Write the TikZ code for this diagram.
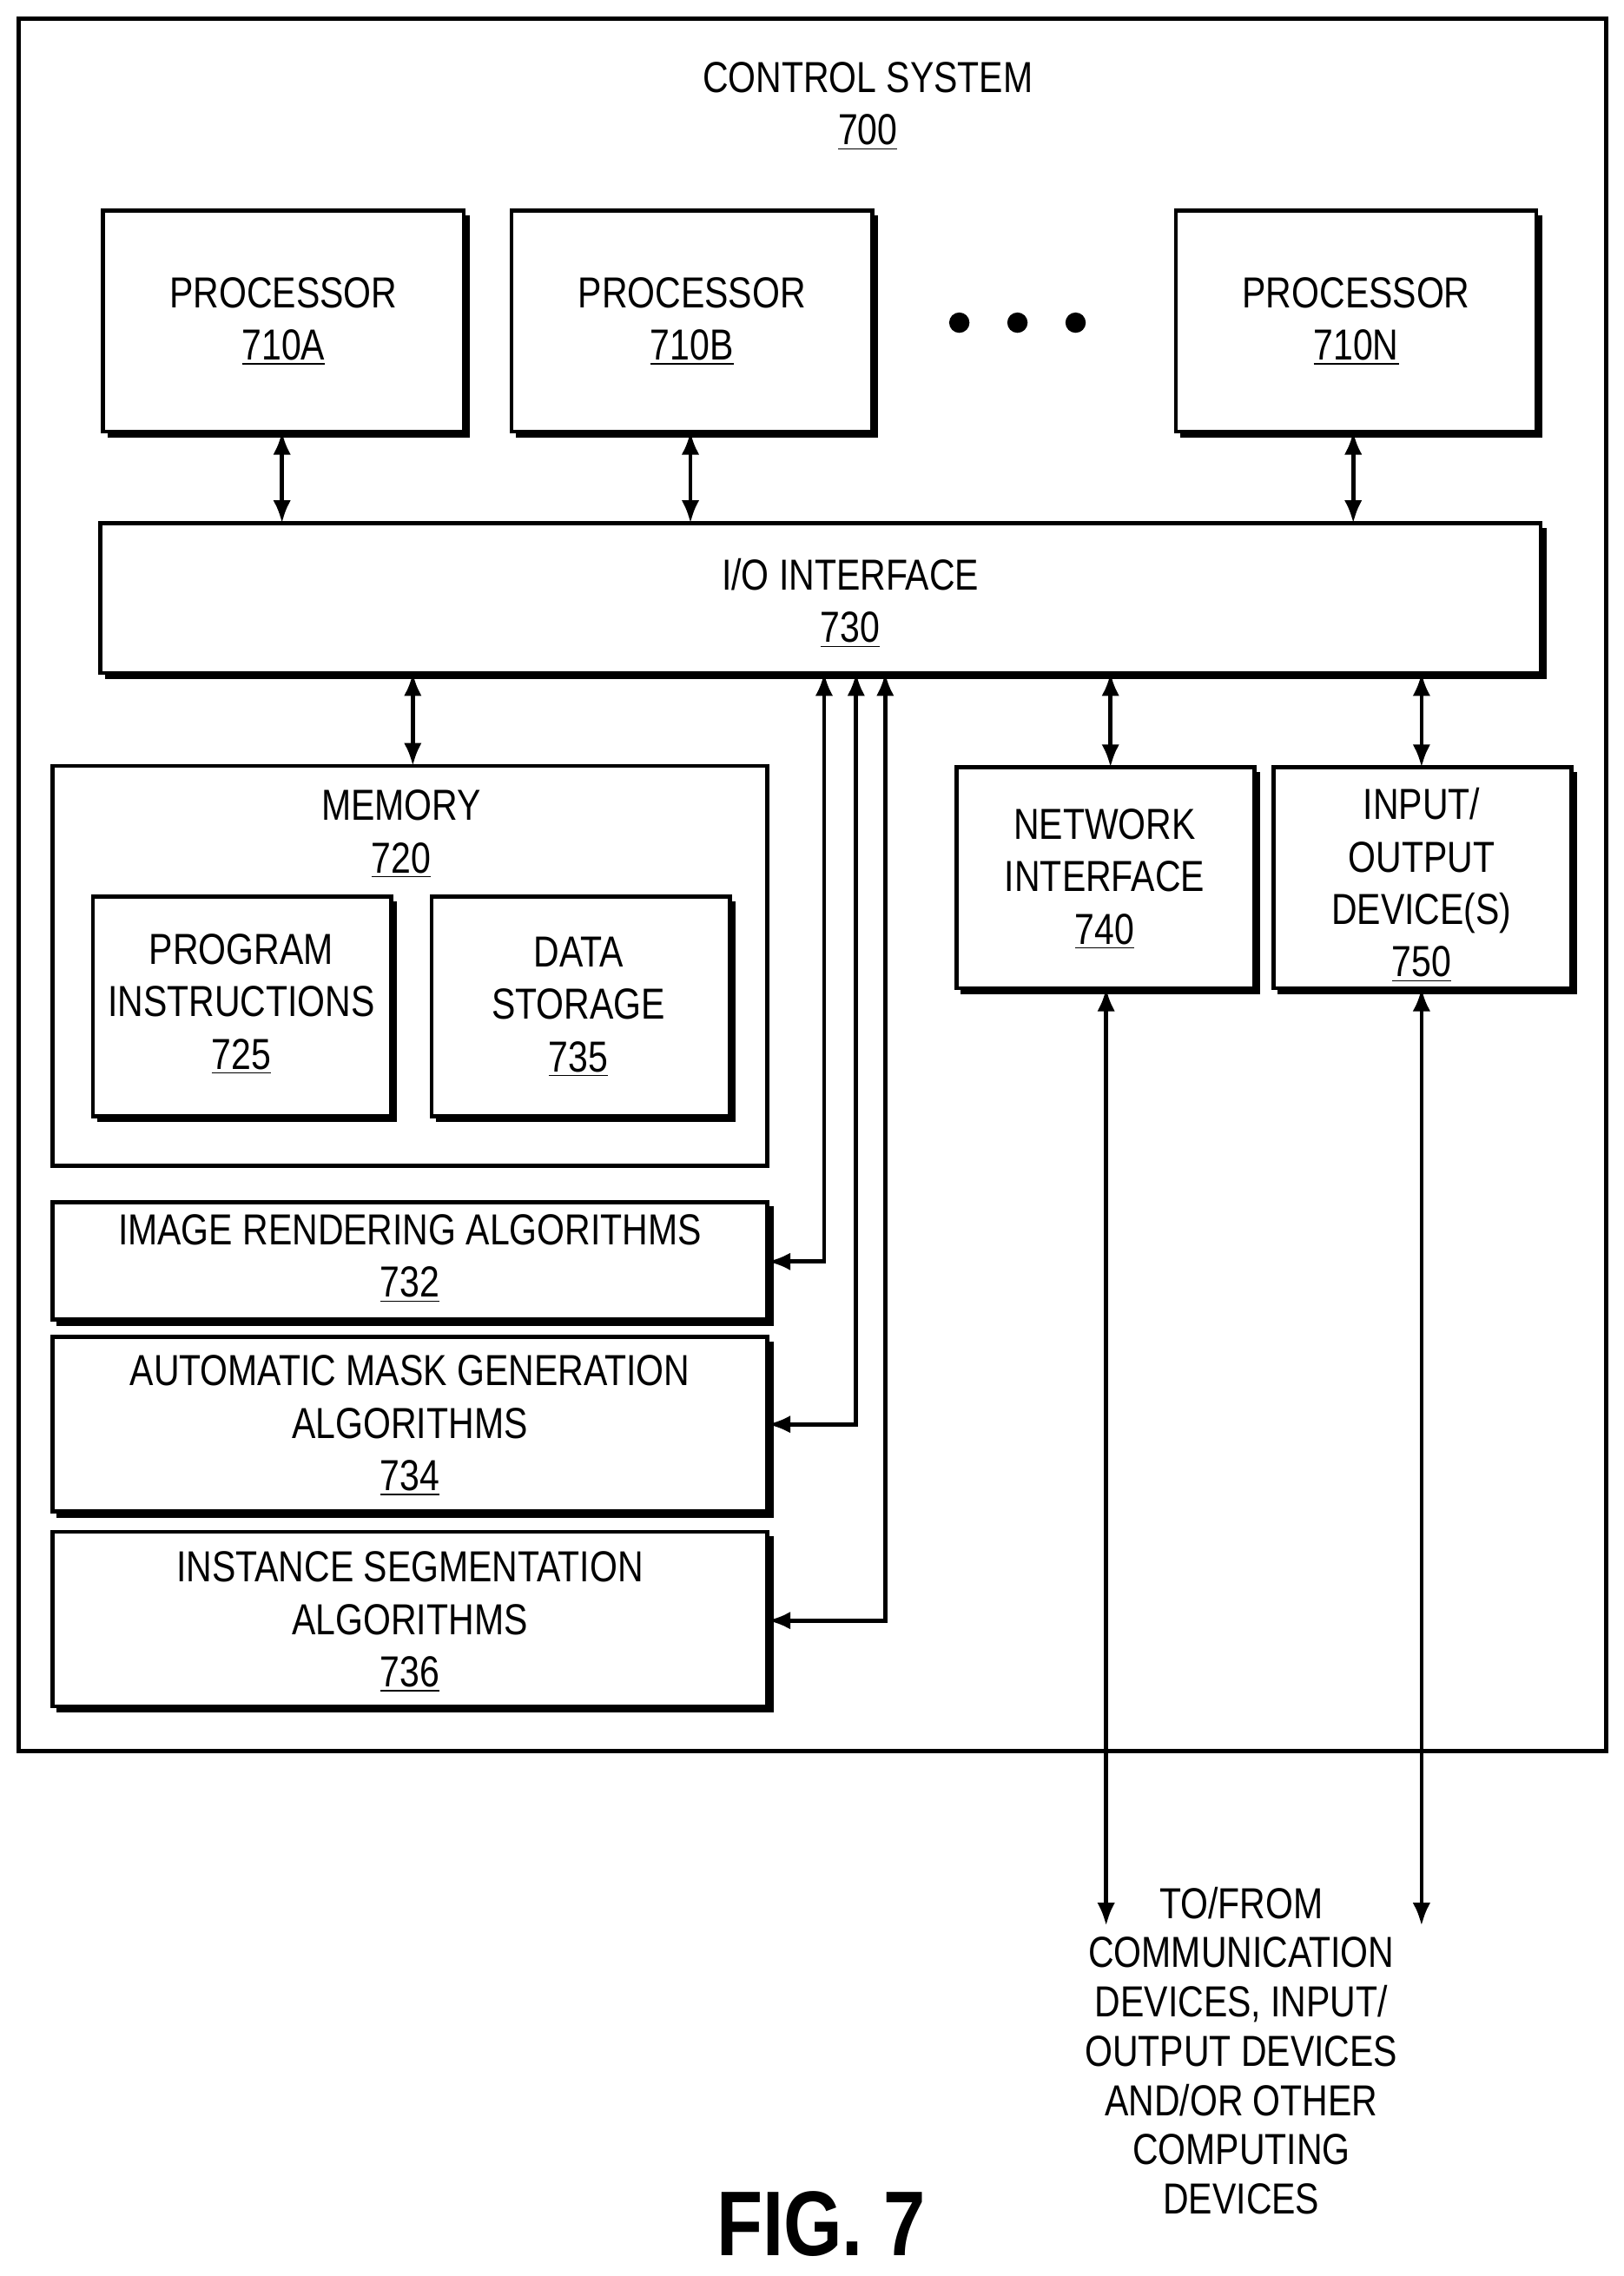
\documentclass[tikz,border=0pt]{standalone}
\usepackage{fontspec}
\setmainfont{Liberation Sans}[FakeStretch=0.82]
\usetikzlibrary{arrows.meta}
\begin{document}
\begin{tikzpicture}[x=0.02cm,y=-0.02cm,
  box/.style={draw,line width=1.6pt},
  shad/.style={line width=3pt},
  lbl/.style={align=center,font=\fontsize{17}{20.5}\selectfont,inner sep=0pt},
  arr/.style={line width=1.6pt,{Latex[length=9pt,width=7pt]}-{Latex[length=9pt,width=7pt]}}]
\useasboundingbox (0,0) rectangle (1117,1566);
\newcommand\shbox[5]{% name x1 y1 x2 y2
  \draw[shad] (#2+3,#5+1.5) -- (#4+1.5,#5+1.5) -- (#4+1.5,#3+3);
  \draw[box] (#2,#3) rectangle (#4,#5);
  \coordinate (#1) at ({(#2+#4)/2},{(#3+#5)/2});}
\draw[box] (13,13) rectangle (1105,1205);
\node[lbl] (t) at (597,73) {CONTROL SYSTEM\\\underline{700}};
\shbox{pa}{71}{145}{319}{297}\node[lbl] (pat) at (pa) {PROCESSOR\\\underline{710A}};
\shbox{pb}{352}{145}{600}{297}\node[lbl] (pbt) at (pb) {PROCESSOR\\\underline{710B}};
\shbox{pn}{809}{145}{1057}{297}\node[lbl] (pnt) at (pn) {PROCESSOR\\\underline{710N}};
\foreach \x in {660,700,740} \fill (\x,222) circle (7);
\shbox{io}{69}{360}{1060}{463}\node[lbl] (iot) at (585,415) {I/O INTERFACE\\\underline{730}};
\draw[arr] (194,297) -- (194,360);
\draw[arr] (475,297) -- (475,360);
\draw[arr] (931,297) -- (931,360);
\draw[box] (36,527) rectangle (528,802);
\node[lbl] (mt) at (276,574) {MEMORY\\\underline{720}};
\shbox{pi}{64}{617}{269}{768}\node[lbl] (pit) at (166,691) {PROGRAM\\INSTRUCTIONS\\\underline{725}};
\shbox{ds}{297}{617}{502}{768}\node[lbl] (dst) at (398,693) {DATA\\STORAGE\\\underline{735}};
\draw[arr] (284,463) -- (284,527);
\shbox{ir}{36}{827}{528}{908}\node[lbl] (irt) at (282,866) {IMAGE RENDERING ALGORITHMS\\\underline{732}};
\shbox{am}{36}{920}{528}{1040}\node[lbl] (amt) at (282,981) {AUTOMATIC MASK GENERATION\\ALGORITHMS\\\underline{734}};
\shbox{is}{36}{1054}{528}{1174}\node[lbl] (ist) at (282,1116) {INSTANCE SEGMENTATION\\ALGORITHMS\\\underline{736}};
\draw[arr] (567,463) -- (567,868) -- (528,868);
\draw[arr] (589,463) -- (589,980) -- (528,980);
\draw[arr] (609,463) -- (609,1115) -- (528,1115);
\shbox{ni}{658}{528}{863}{680}\node[lbl] (nit) at (760,605) {NETWORK\\INTERFACE\\\underline{740}};
\shbox{od}{876}{528}{1081}{680}\node[lbl] (odt) at (978,609) {INPUT/\\OUTPUT\\DEVICE(S)\\\underline{750}};
\draw[arr] (764,463) -- (764,528);
\draw[arr] (978,463) -- (978,528);
\draw[arr] (761,680) -- (761,1325);
\draw[arr] (978,680) -- (978,1325);
\node[lbl,font=\fontsize{17}{19.3}\selectfont] (ext) at (854,1411) {TO/FROM\\COMMUNICATION\\DEVICES, INPUT/\\OUTPUT DEVICES\\AND/OR OTHER\\COMPUTING\\DEVICES};
\node[font=\fontsize{36}{40}\selectfont\bfseries,inner sep=0pt] (fig) at (565,1530) {FIG. 7};
\end{tikzpicture}
\end{document}
